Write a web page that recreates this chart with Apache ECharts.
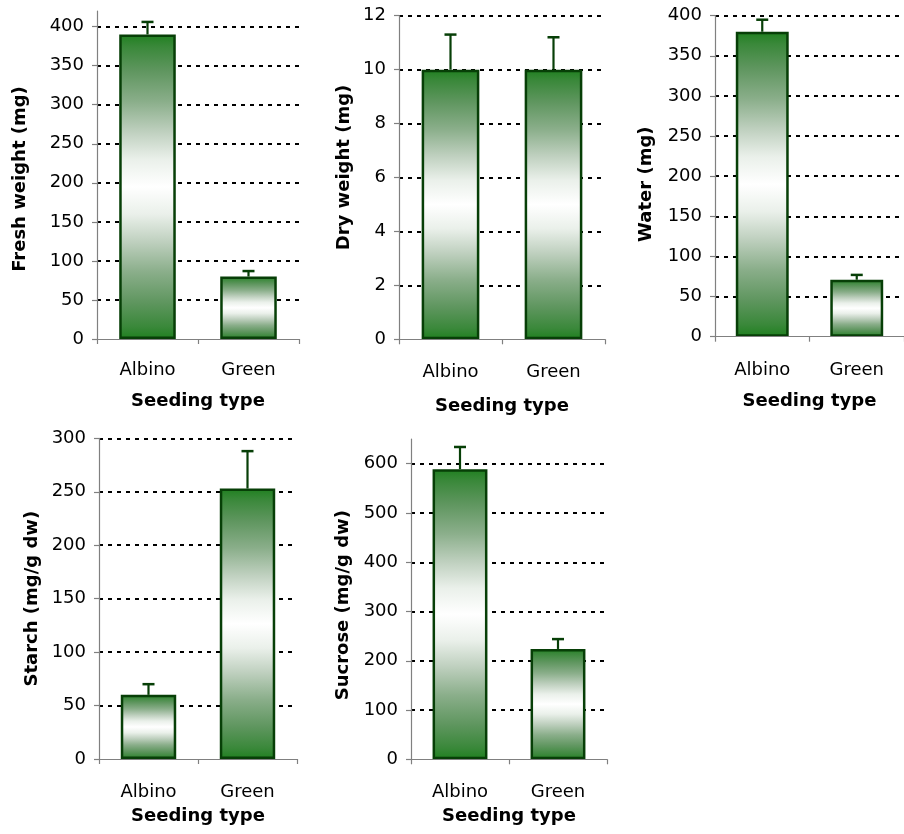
<!DOCTYPE html>
<html>
<head>
<meta charset="utf-8">
<script src="https://cdn.jsdelivr.net/npm/echarts@6/dist/echarts.min.js"></script>
<style>
html,body{margin:0;padding:0;background:#fff;}
#chart{width:904px;height:834px;}
</style>
</head>
<body>
<div id="chart"></div>
<script>
// ---------- data ----------
const categories = ['Albino', 'Green'];
const xTitle = 'Seeding type';

const freshWeight = [390, 80];
const freshWeightErr = [16, 7];
const dryWeight = [10, 10];
const dryWeightErr = [1.3, 1.2];
const water = [380, 71];
const waterErr = [15, 6];
const starch = [60, 253];
const starchErr = [10, 35];
const sucrose = [589, 224];
const sucroseErr = [45, 20];

const freshTicks = [0, 50, 100, 150, 200, 250, 300, 350, 400];
const dryTicks = [0, 2, 4, 6, 8, 10, 12];
const waterTicks = [0, 50, 100, 150, 200, 250, 300, 350, 400];
const starchTicks = [0, 50, 100, 150, 200, 250, 300];
const sucroseTicks = [0, 100, 200, 300, 400, 500, 600];

const yTitles = ['Fresh weight (mg)', 'Dry weight (mg)', 'Water (mg)', 'Starch (mg/g dw)', 'Sucrose (mg/g dw)'];

// ---------- layout / style ----------
const panels = [
  { vals: freshWeight, errs: freshWeightErr, ticks: freshTicks, max: 420, interval: 50,
    grid: { left: 97, top: 11, width: 202, height: 328 }, nameGap: 68, namePad: [0, 8, 0, 0],
    labelMargin: 22, xNameGap: 53 },
  { vals: dryWeight, errs: dryWeightErr, ticks: dryTicks, max: 12, interval: 2,
    grid: { left: 399, top: 15.7, width: 206, height: 323.6 }, nameGap: 46, namePad: [0, 0, 0, 20],
    labelMargin: 24, xNameGap: 58 },
  { vals: water, errs: waterErr, ticks: waterTicks, max: 400, interval: 50,
    grid: { left: 715, top: 15.7, width: 192, height: 321 }, nameGap: 60, namePad: [0, 16, 0, 0],
    labelMargin: 25, xNameGap: 56 },
  { vals: starch, errs: starchErr, ticks: starchTicks, max: 300, interval: 50,
    grid: { left: 99, top: 438.3, width: 198, height: 320.7 }, nameGap: 58, namePad: [0, 0, 0, 0],
    labelMargin: 24, xNameGap: 48 },
  { vals: sucrose, errs: sucroseErr, ticks: sucroseTicks, max: 650, interval: 50,
    grid: { left: 411, top: 439.1, width: 196, height: 320.2 }, nameGap: 59, namePad: [0, 12, 0, 0],
    labelMargin: 24, xNameGap: 48 }
];

const FONT = 'DejaVu Sans';
const DARK = '#073f07';
const AXIS_GREY = '#808080';

const barGradient = new echarts.graphic.LinearGradient(0, 0, 0, 1, [
  { offset: 0, color: '#1f801f' },
  { offset: 0.04, color: '#3a883a' },
  { offset: 0.12, color: '#5f965f' },
  { offset: 0.22, color: '#8aae8a' },
  { offset: 0.32, color: '#bfd0bf' },
  { offset: 0.41, color: '#eaf0ea' },
  { offset: 0.5, color: '#ffffff' },
  { offset: 0.59, color: '#eaf0ea' },
  { offset: 0.68, color: '#bfd0bf' },
  { offset: 0.78, color: '#8aae8a' },
  { offset: 0.88, color: '#5f965f' },
  { offset: 0.96, color: '#3a883a' },
  { offset: 1, color: '#1f801f' }
]);

const grids = [], xAxes = [], yAxes = [], series = [];
panels.forEach((p, i) => {
  grids.push(Object.assign({ containLabel: false }, p.grid));
  xAxes.push({
    type: 'category', gridIndex: i, data: categories,
    name: xTitle, nameLocation: 'middle', nameGap: p.xNameGap,
    nameTextStyle: { fontFamily: FONT, fontSize: 18, fontWeight: 'bold', color: '#000' },
    axisLine: { lineStyle: { color: AXIS_GREY, width: 1.2 } },
    axisTick: { show: true, length: 5, inside: false, lineStyle: { color: AXIS_GREY, width: 1.2 } },
    axisLabel: { fontFamily: FONT, fontSize: 18, color: '#000', margin: p.labelMargin },
    splitLine: { show: false },
    z: 5
  });
  yAxes.push({
    type: 'value', gridIndex: i, min: 0, max: p.max, interval: p.interval,
    name: yTitles[i], nameLocation: 'middle', nameGap: p.nameGap, nameRotate: 90,
    nameTextStyle: { fontFamily: FONT, fontSize: 18, fontWeight: 'bold', color: '#000', padding: p.namePad },
    axisLine: { show: true, lineStyle: { color: AXIS_GREY, width: 1.2 } },
    axisTick: { show: true, length: 5, inside: false, customValues: p.ticks,
      lineStyle: { color: AXIS_GREY, width: 1.2 } },
    axisLabel: { fontFamily: FONT, fontSize: 18, color: '#000', margin: 13, customValues: p.ticks },
    splitLine: { show: true, showMinLine: false, lineStyle: { color: '#000', width: 2, type: [4, 5] } }
  });
  series.push({
    type: 'bar', xAxisIndex: i, yAxisIndex: i, data: p.vals, barWidth: '56%',
    itemStyle: { color: barGradient, borderColor: DARK, borderWidth: 2.5 },
    z: 2
  });
  series.push({
    type: 'custom', xAxisIndex: i, yAxisIndex: i, z: 3,
    data: categories.map((c, k) => [k, p.vals[k], p.errs[k]]),
    encode: { x: 0, y: 1 },
    renderItem: function (params, api) {
      const x = api.value(0), v = api.value(1), e = api.value(2);
      const p0 = api.coord([x, v]);
      const p1 = api.coord([x, v + e]);
      const hw = 6;
      return {
        type: 'group',
        children: [
          { type: 'line', shape: { x1: p0[0], y1: p0[1], x2: p1[0], y2: p1[1] },
            style: { stroke: DARK, lineWidth: 2.2 } },
          { type: 'line', shape: { x1: p1[0] - hw, y1: p1[1], x2: p1[0] + hw, y2: p1[1] },
            style: { stroke: DARK, lineWidth: 2.5 } }
        ]
      };
    }
  });
});

const chart = echarts.init(document.getElementById('chart'), null, { renderer: 'canvas' });
chart.setOption({
  animation: false,
  backgroundColor: '#ffffff',
  grid: grids,
  xAxis: xAxes,
  yAxis: yAxes,
  series: series
});
</script>
</body>
</html>
